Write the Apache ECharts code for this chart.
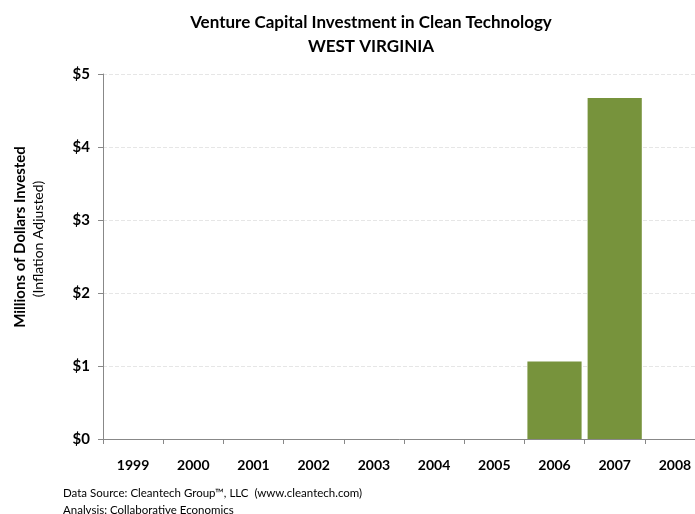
<!DOCTYPE html>
<html>
<head>
<meta charset="utf-8">
<script src="https://cdn.jsdelivr.net/npm/echarts@6/dist/echarts.min.js"></script>
<style>
  html, body { margin: 0; padding: 0; background: #fff; }
  #chart { width: 695px; height: 514px; }
</style>
</head>
<body>
<div id="chart"></div>
<script>
// values (millions of dollars, inflation adjusted)
var years = ['1999', '2000', '2001', '2002', '2003', '2004', '2005', '2006', '2007', '2008'];
var invested = [0, 0, 0, 0, 0, 0, 0, 1.06, 4.67, 0];
var yTicks = [0, 1, 2, 3, 4, 5];

var font = 'Lato, "Open Sans", sans-serif';

var chart = echarts.init(document.getElementById('chart'));

chart.setOption({
  animation: false,
  title: {
    text: 'Venture Capital Investment in Clean Technology\nWEST VIRGINIA',
    left: 366,
    top: 6,
    textAlign: 'center',
    textStyle: { fontFamily: font, fontSize: 17, fontWeight: 'bold', color: '#000', lineHeight: 24 }
  },
  graphic: [
    {
      type: 'text', x: 20, y: 237, rotation: Math.PI / 2,
      style: { text: 'Millions of Dollars Invested', font: 'bold 15px ' + font, fill: '#000', align: 'center', verticalAlign: 'middle' }
    },
    {
      type: 'text', x: 38, y: 239, rotation: Math.PI / 2,
      style: { text: '(Inflation Adjusted)', font: '14px ' + font, fill: '#000', align: 'center', verticalAlign: 'middle' }
    },
    {
      type: 'text', x: 63, y: 487,
      style: { text: 'Data Source: Cleantech Group\u2122, LLC  (www.cleantech.com)', font: '11.5px ' + font, fill: '#000' }
    },
    {
      type: 'text', x: 63, y: 504,
      style: { text: 'Analysis: Collaborative Economics', font: '11.5px ' + font, fill: '#000' }
    }
  ],
  // plot runs past the right edge of the window, as in the original
  grid: { left: 103, width: 602, top: 74, height: 365, containLabel: false, outerBoundsMode: 'none' },
  xAxis: {
    type: 'category',
    data: years,
    axisLine: { lineStyle: { color: '#888' } },
    axisTick: { show: true, alignWithLabel: false, length: 5, lineStyle: { color: '#888' } },
    axisLabel: { margin: 19, fontFamily: font, fontSize: 14, fontWeight: 'bold', color: '#000' }
  },
  yAxis: {
    type: 'value',
    min: 0, max: 5, interval: 1,
    axisLine: { show: true, lineStyle: { color: '#888' } },
    axisTick: { show: true, length: 5, lineStyle: { color: '#888' } },
    splitLine: { lineStyle: { color: '#e6e6e6', type: 'dashed' } },
    axisLabel: {
      margin: 13, fontFamily: font, fontSize: 15, fontWeight: 'bold', color: '#000',
      formatter: function (v) { return yTicks.indexOf(v) >= 0 ? '$' + v : ''; }
    }
  },
  series: [{
    type: 'bar',
    data: invested,
    barCategoryGap: '10%',
    itemStyle: { color: '#77933C' }
  }]
});
</script>
</body>
</html>
